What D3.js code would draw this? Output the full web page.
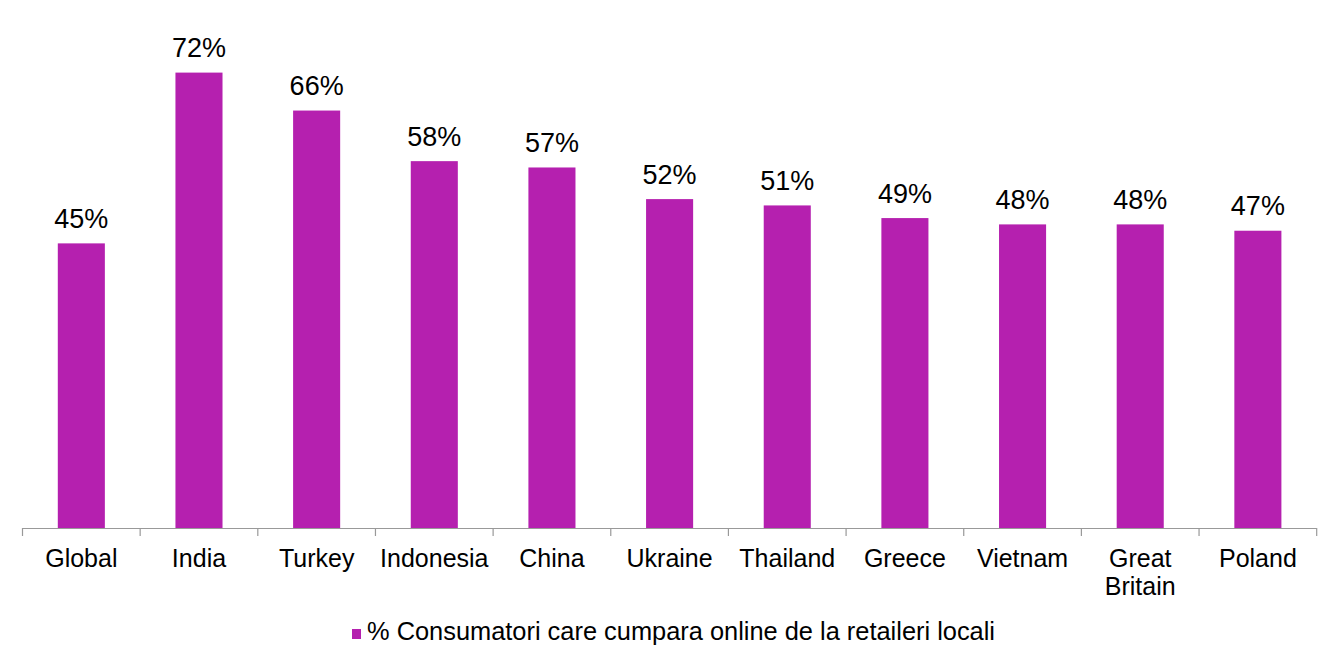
<!DOCTYPE html>
<html>
<head>
<meta charset="utf-8">
<script src="https://cdn.jsdelivr.net/npm/d3@7"></script>
<style>
  body { margin: 0; background: #fff; }
  svg text { font-family: "Liberation Sans", Arial, sans-serif; fill: #000; }
</style>
</head>
<body>
<div id="chart"></div>
<script>
// categories and values
let categories = ['Global', 'India', 'Turkey', 'Indonesia', 'China', 'Ukraine',
  'Thailand', 'Greece', 'Vietnam', 'Great Britain', 'Poland'];
let values = [45, 72, 66, 58, 57, 52, 51, 49, 48, 48, 47];
let seriesName = '% Consumatori care cumpara online de la retaileri locali';

let width = 1340;
let height = 666;
let barColor = '#b520af';

let svg = d3.select('#chart')
.append('svg')
.attr('width', width)
.attr('height', height);

let x = d3.scaleBand()
.domain(categories)
.range([22.5, 1316.7])
.paddingInner(0.6)
.paddingOuter(0.3);

let y = d3.scaleLinear()
.domain([0, 80])
.range([528, 22]);

// bars
svg.selectAll('rect.bar')
.data(values)
.enter()
.append('rect')
.attr('class', 'bar')
.attr('x', function(d, i) { return x(categories[i]); })
.attr('width', x.bandwidth())
.attr('y', function(d) { return y(d); })
.attr('height', function(d) { return y(0) - y(d); })
.attr('fill', barColor);

// value labels
svg.selectAll('text.value')
.data(values)
.enter()
.append('text')
.attr('class', 'value')
.attr('x', function(d, i) { return x(categories[i]) + x.bandwidth() / 2; })
.attr('y', function(d) { return y(d) - 15.5; })
.attr('text-anchor', 'middle')
.style('font-size', '27px')
.text(function(d) { return d + '%'; });

// x axis line with ticks at category boundaries
let step = x.step();
let x0 = 22.5;
let axis = svg.append('g').attr('stroke', '#999').attr('stroke-width', 1.2);
axis.append('line')
.attr('x1', x0).attr('x2', 1316.7)
.attr('y1', y(0) + 0.5).attr('y2', y(0) + 0.5);
d3.range(categories.length + 1).forEach(function(i) {
  let xx = x0 + i * step;
  axis.append('line')
  .attr('x1', xx).attr('x2', xx)
  .attr('y1', y(0)).attr('y2', y(0) + 8);
});

// category labels (wrapped)
let catLabels = svg.selectAll('text.cat')
.data(categories)
.enter()
.append('text')
.attr('class', 'cat')
.attr('text-anchor', 'middle')
.style('font-size', '25px')
.attr('transform', function(d) {
  return 'translate(' + (x(d) + x.bandwidth() / 2) + ',566.5)';
});
catLabels.each(function(d) {
  let lines = d === 'Great Britain' ? ['Great', 'Britain'] : [d];
  let t = d3.select(this);
  lines.forEach(function(l, j) {
    t.append('tspan').attr('x', 0).attr('dy', j === 0 ? 0 : 28).text(l);
  });
});

// legend
let legend = svg.append('g').attr('transform', 'translate(352,629)');
legend.append('rect')
.attr('width', 9)
.attr('height', 10)
.attr('fill', barColor);
legend.append('text')
.attr('x', 15)
.attr('y', 10.5)
.style('font-size', '25.4px')
.text(seriesName);
</script>
</body>
</html>
